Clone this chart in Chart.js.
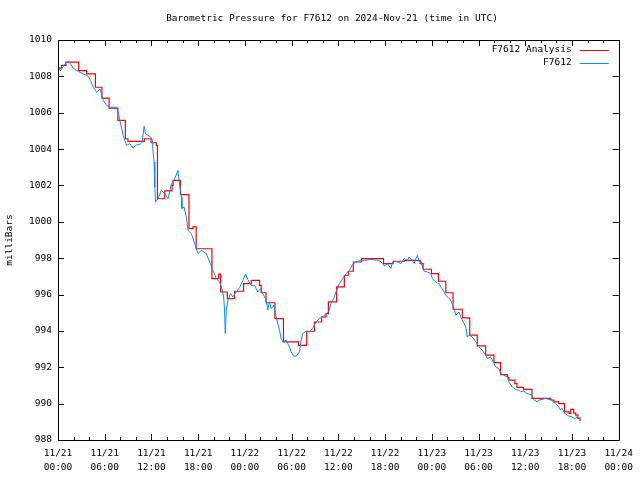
<!DOCTYPE html>
<html>
<head>
<meta charset="utf-8">
<script src="https://cdn.jsdelivr.net/npm/chart.js@4/dist/chart.umd.min.js"></script>
<style>
  html, body { margin: 0; padding: 0; background: #fff; }
  #wrap { width: 640px; height: 480px; }
</style>
</head>
<body>
<div id="wrap"><canvas id="pressureChart" width="640" height="480"></canvas></div>
<script>
// hours since 2024-11-21 00:00 UTC
const chartTitle = 'Barometric Pressure for F7612 on 2024-Nov-21 (time in UTC)';
const seriesNames = ['F7612 Analysis', 'F7612'];
const xTickLabels = [
    ['11/21', '00:00'], ['11/21', '06:00'], ['11/21', '12:00'], ['11/21', '18:00'],
    ['11/22', '00:00'], ['11/22', '06:00'], ['11/22', '12:00'], ['11/22', '18:00'],
    ['11/23', '00:00'], ['11/23', '06:00'], ['11/23', '12:00'], ['11/23', '18:00'],
    ['11/24', '00:00']
];

// Analysis (step line): level starts at each hour and holds until the next one
const analysisHours = [
    0.04, 0.47, 1.02, 2.66, 3.68, 4.80, 5.64, 6.56, 7.69, 8.65,
    8.97, 11.08, 11.95, 12.62, 12.77, 13.71, 14.64, 14.77, 15.72, 16.82,
    17.33, 17.74, 19.77, 20.63, 20.88, 21.74, 22.67, 23.83, 24.81, 25.88,
    26.09, 26.71, 27.86, 28.95, 30.87, 31.94, 32.92, 33.86, 34.42, 34.72,
    35.78, 36.77, 37.28, 37.92, 38.98, 41.80, 43.04, 44.45, 46.50, 46.89,
    47.95, 48.85, 49.80, 50.73, 51.92, 52.87, 53.84, 54.92, 55.98, 56.84,
    57.69, 57.90, 58.67, 58.93, 59.76, 60.86, 63.28, 63.67, 64.31, 65.05,
    65.62, 65.84, 66.22, 66.48, 66.74, 67.03
];
const analysisValues = [
    1008.45, 1008.60, 1008.78, 1008.32, 1008.14, 1007.40, 1006.80, 1006.25, 1005.58, 1004.57,
    1004.42, 1004.57, 1004.35, 1004.20, 1001.27, 1001.70, 1002.00, 1002.28, 1001.50, 999.63,
    999.72, 998.52, 996.88, 997.12, 996.14, 995.78, 996.18, 996.60, 996.78, 996.50,
    996.10, 995.55, 994.68, 993.40, 993.20, 993.98, 994.49, 994.77, 994.95, 995.60,
    996.42, 997.06, 997.28, 997.79, 997.98, 997.70, 997.83, 997.88, 997.70, 997.39,
    997.15, 996.73, 996.10, 995.19, 994.72, 993.77, 993.18, 992.67, 992.26, 991.60,
    991.45, 991.29, 991.10, 990.89, 990.78, 990.29, 990.20, 990.10, 990.00, 989.55,
    989.46, 989.68, 989.48, 989.37, 989.20, 989.05
];

// Station observations
const obsHours = [
    0.04, 0.29, 0.90, 1.41, 1.96, 2.40, 3.24, 3.88, 4.19, 4.52,
    4.96, 5.38, 5.60, 5.80, 6.24, 6.66, 7.52, 7.72, 7.94, 8.37,
    8.80, 9.22, 9.65, 10.08, 10.50, 10.80, 11.06, 11.23, 11.57, 11.91,
    12.13, 12.21, 12.34, 12.43, 12.52, 12.85, 13.28, 13.71, 14.13, 14.57,
    14.99, 15.41, 15.54, 15.85, 15.92, 16.18, 16.49, 16.69, 17.13, 17.55,
    17.97, 18.41, 19.05, 19.47, 19.90, 20.33, 20.75, 21.05, 21.27, 21.39,
    21.48, 21.61, 21.82, 22.16, 22.46, 22.89, 23.32, 23.74, 24.08, 24.38,
    24.81, 25.24, 25.66, 26.01, 26.30, 26.74, 26.94, 27.16, 27.38, 27.71,
    28.02, 28.22, 28.44, 28.66, 28.86, 29.30, 29.72, 29.94, 30.27, 30.58,
    31.00, 31.22, 31.42, 31.86, 32.28, 32.71, 33.14, 33.56, 33.99, 34.42,
    34.76, 35.06, 35.40, 35.70, 36.13, 36.55, 36.98, 37.41, 37.83, 38.27,
    38.91, 39.55, 39.97, 41.25, 41.67, 41.89, 42.31, 42.75, 42.95, 43.39,
    44.03, 44.45, 44.88, 45.09, 45.52, 45.73, 45.95, 46.16, 46.37, 46.59,
    46.80, 47.02, 47.44, 47.87, 48.08, 48.51, 48.94, 49.16, 49.58, 49.80,
    50.22, 50.44, 50.86, 51.08, 51.50, 51.72, 51.92, 52.36, 52.56, 52.78,
    53.20, 53.64, 54.06, 54.48, 54.92, 55.13, 55.56, 55.77, 56.20, 56.62,
    56.85, 57.26, 57.69, 57.90, 58.33, 58.76, 59.19, 59.41, 59.83, 60.04,
    60.47, 60.89, 61.11, 61.53, 61.75, 62.17, 62.61, 63.03, 63.37, 63.89,
    64.31, 64.53, 64.73, 65.08, 65.59, 66.01, 66.36, 66.65, 66.87
];
const obsValues = [
    1008.56, 1008.30, 1008.70, 1008.82, 1008.45, 1008.32, 1008.14, 1008.00, 1007.77, 1007.40,
    1007.13, 1007.30, 1007.04, 1006.68, 1006.40, 1006.30, 1006.30, 1006.03, 1005.58, 1004.75,
    1004.20, 1004.30, 1004.05, 1004.24, 1004.24, 1004.38, 1005.26, 1004.85, 1004.75, 1004.66,
    1004.48, 1003.84, 1003.29, 1001.90, 1001.09, 1001.27, 1001.73, 1001.55, 1001.27, 1002.10,
    1002.37, 1002.83, 1002.28, 1001.36, 1000.73, 1000.81, 1000.26, 999.53, 999.35, 998.80,
    998.25, 998.43, 998.25, 997.79, 997.33, 996.88, 996.69, 996.33, 995.87, 995.14,
    993.86, 995.14, 995.69, 996.05, 995.87, 996.14, 996.38, 996.78, 997.12, 996.82,
    996.50, 996.50, 996.14, 996.33, 996.05, 995.69, 995.14, 995.60, 995.23, 995.41,
    994.77, 994.41, 994.04, 993.58, 993.40, 993.49, 993.12, 992.85, 992.61, 992.61,
    992.85, 993.49, 993.86, 993.98, 993.95, 994.13, 994.49, 994.68, 994.77, 994.95,
    995.04, 995.50, 995.78, 996.14, 996.60, 996.88, 997.15, 997.33, 997.65, 997.79,
    997.88, 997.88, 997.94, 997.88, 997.70, 997.57, 997.70, 997.43, 997.79, 997.83,
    997.70, 997.98, 997.88, 998.07, 997.88, 997.70, 997.98, 998.16, 997.79, 997.88,
    997.52, 997.28, 997.24, 997.15, 996.88, 996.69, 996.60, 996.42, 996.14, 995.96,
    995.78, 995.69, 995.23, 994.86, 995.04, 994.77, 994.59, 994.22, 993.67, 993.76,
    993.67, 993.40, 993.12, 992.94, 992.67, 992.48, 992.57, 992.39, 992.02, 991.93,
    991.66, 991.57, 991.47, 991.20, 990.92, 990.78, 990.74, 990.65, 990.70, 990.60,
    990.52, 990.47, 990.20, 990.10, 990.20, 990.23, 990.29, 990.23, 990.20, 990.00,
    989.82, 989.64, 989.74, 989.46, 989.32, 989.27, 989.18, 989.27, 989.42
];

const FONT = "'DejaVu Sans Mono', 'Liberation Mono', monospace";
const RED = '#ff0000';
const BLUE = '#0c8aff';

function toPoints(xs, ys) {
    return xs.map((x, i) => ({ x: x, y: ys[i] }));
}

// gnuplot-style frame with inward ticks, title and legend
const gnuplotFrame = {
    id: 'gnuplotFrame',
    afterDatasetsDraw(chart) {
        const ctx = chart.ctx;
        const area = chart.chartArea;
        const xs = chart.scales.x;
        const ys = chart.scales.y;
        ctx.save();
        ctx.strokeStyle = '#000';
        ctx.lineWidth = 1;
        ctx.beginPath();
        ctx.rect(Math.round(area.left) + 0.5, Math.round(area.top) + 0.5,
                 Math.round(area.right - area.left), Math.round(area.bottom - area.top));
        ctx.stroke();

        ctx.beginPath();
        for (let h = xs.min; h <= xs.max; h += 2) {
            const px = Math.round(xs.getPixelForValue(h)) + 0.5;
            const len = (h % 6 === 0) ? 6 : 3;
            ctx.moveTo(px, area.bottom);
            ctx.lineTo(px, area.bottom - len);
            ctx.moveTo(px, area.top);
            ctx.lineTo(px, area.top + len);
        }
        ys.ticks.forEach(t => {
            const py = Math.round(ys.getPixelForValue(t.value)) + 0.5;
            ctx.moveTo(area.left, py);
            ctx.lineTo(area.left + 6, py);
            ctx.moveTo(area.right, py);
            ctx.lineTo(area.right - 6, py);
        });
        ctx.stroke();

        // title
        ctx.fillStyle = '#000';
        ctx.font = '9.5px ' + FONT;
        ctx.textAlign = 'center';
        ctx.textBaseline = 'middle';
        ctx.fillText(chartTitle, 332, 19);

        // legend, text right-aligned with sample line after it
        ctx.textAlign = 'right';
        chart.data.datasets.forEach((ds, i) => {
            const y = area.top + 10 + i * 13;
            ctx.fillStyle = '#000';
            ctx.fillText(ds.label, area.right - 47, y);
            ctx.strokeStyle = ds.borderColor;
            ctx.beginPath();
            ctx.moveTo(area.right - 39, Math.round(y) + 0.5);
            ctx.lineTo(area.right - 10, Math.round(y) + 0.5);
            ctx.stroke();
        });
        ctx.restore();
    }
};

new Chart(document.getElementById('pressureChart'), {
    type: 'line',
    data: {
        datasets: [
            {
                label: seriesNames[0],
                data: toPoints(analysisHours, analysisValues),
                borderColor: RED,
                borderWidth: 1.2,
                stepped: 'before',
                pointRadius: 0,
                fill: false,
                order: 1
            },
            {
                label: seriesNames[1],
                data: toPoints(obsHours, obsValues),
                borderColor: BLUE,
                borderWidth: 1,
                pointRadius: 0,
                tension: 0,
                fill: false,
                order: 0
            }
        ]
    },
    options: {
        responsive: false,
        animation: false,
        devicePixelRatio: 1,
        layout: { padding: { top: 40, right: 20, left: 0, bottom: 0 } },
        plugins: {
            legend: { display: false },
            title: { display: false },
            tooltip: { enabled: false }
        },
        scales: {
            x: {
                type: 'linear',
                min: 0,
                max: 72,
                afterFit: scale => { scale.height = 40; },
                grid: { display: false, drawTicks: false },
                border: { display: false },
                ticks: {
                    stepSize: 6,
                    autoSkip: false,
                    maxRotation: 0,
                    padding: 7,
                    color: '#000',
                    font: { family: FONT, size: 9.5, lineHeight: 1.45 },
                    callback: value => xTickLabels[Math.round(value / 6)]
                }
            },
            y: {
                min: 988,
                max: 1010,
                afterFit: scale => { scale.width = 58; },
                grid: { display: false, drawTicks: false },
                border: { display: false },
                ticks: {
                    stepSize: 2,
                    padding: 6,
                    color: '#000',
                    font: { family: FONT, size: 9.5 },
                    callback: value => String(value)
                },
                title: {
                    display: true,
                    text: 'milliBars',
                    color: '#000',
                    font: { family: FONT, size: 9.5 },
                    padding: { top: 4, bottom: 0 }
                }
            }
        }
    },
    plugins: [gnuplotFrame]
});
</script>
</body>
</html>
